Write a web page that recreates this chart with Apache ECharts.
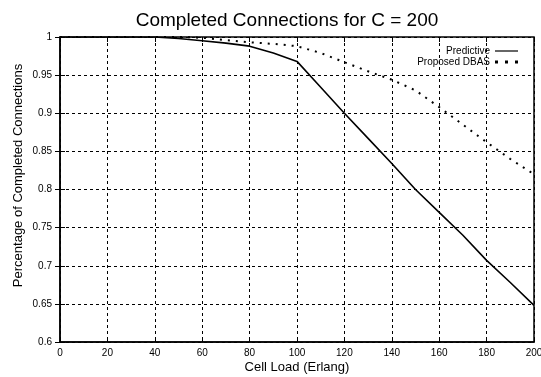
<!DOCTYPE html>
<html>
<head>
<meta charset="utf-8">
<script src="https://cdn.jsdelivr.net/npm/echarts@6/dist/echarts.min.js"></script>
<style>html,body{margin:0;padding:0;background:#fff;}#c{width:541px;height:377px;}</style>
</head>
<body>
<div id="c"></div>
<script>
const titleText = 'Completed Connections for C = 200';
const xName = 'Cell Load (Erlang)';
const yName = 'Percentage of Completed Connections';
const seriesNames = ['Predictive', 'Proposed DBAS'];
const loads      = [0, 20, 40, 50, 60, 70, 80, 90, 100, 110, 120, 130, 140, 150, 160, 170, 180, 190, 200];
const predictive = [1.0, 1.0, 1.0, 0.998, 0.995, 0.992, 0.988, 0.979, 0.968, 0.934, 0.9, 0.867, 0.834, 0.8, 0.77, 0.74, 0.707, 0.678, 0.648];
const dbas       = [1.0, 1.0, 1.0, 1.0, 0.999, 0.996, 0.993, 0.991, 0.988, 0.979, 0.967, 0.955, 0.944, 0.93, 0.908, 0.885, 0.862, 0.84, 0.82];
const xMin = 0, xMax = 200, xStep = 20;
const yMin = 0.6, yMax = 1.0, yStep = 0.05;

const font = 'Liberation Sans, Arial, sans-serif';
const chart = echarts.init(document.getElementById('c'), null, {renderer: 'canvas'});
const pairs = arr => loads.map((x, i) => [x, arr[i]]);
const gridLine = {show: true, lineStyle: {color: '#000', type: [3, 3], width: 1}};
const tick = {show: true, inside: true, length: 5, lineStyle: {color: '#000', width: 1}};
const legendText = {fontFamily: font, fontSize: 10, color: '#000'};
chart.setOption({
  animation: false,
  backgroundColor: '#fff',
  title: {text: titleText, left: 282, top: 6, textAlign: 'center',
    textStyle: {fontFamily: font, fontSize: 19, fontWeight: 'normal', color: '#000'}},
  grid: {left: 60, right: 7, top: 37, bottom: 35, show: true, borderColor: '#000', borderWidth: 1.5,
    outerBoundsMode: 'none', containLabel: false},
  legend: [
    {data: [{name: seriesNames[0], icon: 'rect'}], right: 18, top: 41, orient: 'vertical', align: 'right',
      itemWidth: 23, itemHeight: 1.5, itemStyle: {color: '#333'}, textStyle: legendText},
    {data: [{name: seriesNames[1], icon: 'path://M0 0h3v3h-3zM10 0h3v3h-3zM20 0h3v3h-3z'}], right: 18, top: 52,
      orient: 'vertical', align: 'right', itemWidth: 23, itemHeight: 3, itemStyle: {color: '#000'}, textStyle: legendText}
  ],
  xAxis: [
    {type: 'value', min: xMin, max: xMax, interval: xStep, name: xName, nameLocation: 'middle', nameGap: 19,
      nameMoveOverlap: false,
      nameTextStyle: {fontFamily: font, fontSize: 13, color: '#000'},
      axisLine: {show: true, lineStyle: {color: '#000', width: 1.5}}, axisTick: tick,
      axisLabel: {fontFamily: font, fontSize: 10, color: '#000', margin: 6, hideOverlap: false},
      splitLine: gridLine},
    {type: 'value', position: 'top', min: xMin, max: xMax, interval: xStep,
      axisLine: {show: false}, axisTick: tick, axisLabel: {show: false}, splitLine: {show: false}}
  ],
  yAxis: [
    {type: 'value', min: yMin, max: yMax, interval: yStep, name: yName, nameLocation: 'middle', nameGap: 35,
      nameMoveOverlap: false,
      nameTextStyle: {fontFamily: font, fontSize: 13, color: '#000', padding: [0, 0, 0, 28]},
      axisLine: {show: true, lineStyle: {color: '#000', width: 1.5}}, axisTick: tick,
      axisLabel: {fontFamily: font, fontSize: 10, color: '#000', margin: 8},
      splitLine: gridLine},
    {type: 'value', position: 'right', min: yMin, max: yMax, interval: yStep,
      axisLine: {show: false}, axisTick: tick, axisLabel: {show: false}, splitLine: {show: false}}
  ],
  series: [
    {name: seriesNames[0], type: 'line', data: pairs(predictive), symbol: 'none', showSymbol: false,
      lineStyle: {color: '#000', width: 1.6}, itemStyle: {color: '#000'}},
    {name: seriesNames[1], type: 'line', data: pairs(dbas), symbol: 'none', showSymbol: false,
      lineStyle: {color: '#000', width: 2, type: [2, 6]}, itemStyle: {color: '#000'}}
  ]
});
</script>
</body>
</html>
